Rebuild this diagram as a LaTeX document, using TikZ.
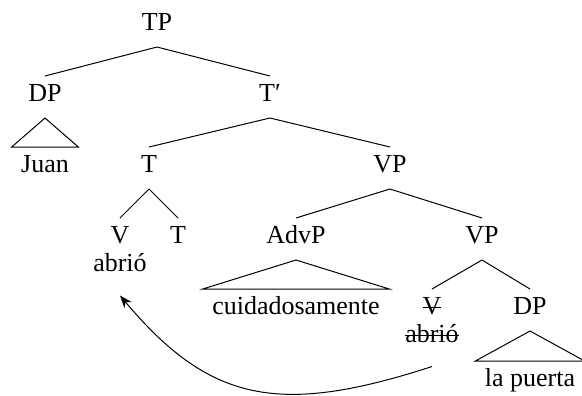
\documentclass[tikz,border=0pt]{standalone}
\usepackage{fontspec}
\setmainfont{Liberation Serif}
\usetikzlibrary{arrows.meta}
\newcommand\strk[1]{\setbox0\hbox{#1}\rlap{\rule[2.3pt]{\wd0}{0.4pt}}\box0}

\begin{document}
\begin{tikzpicture}[x = 0.4pt, y = 0.4pt,
    lbl/.style = {anchor=base, font=\fontsize{10.4}{12}\selectfont, text height=5.8pt, text depth=2.6pt, inner xsep=3.6pt, inner ysep=4pt},
    moved/.style = {lbl, inner ysep=7pt}]
    \useasboundingbox (0,0) rectangle (582,-395);
    \node[lbl] (tp) at (157,-30) {TP};
    \node[lbl] (dp) at (45,-101) {DP};
    \node[lbl] (tbar) at (270,-101) {T′};
    \node[lbl] (juan) at (45,-172) {Juan};
    \node[lbl] (t) at (149,-172) {T};
    \node[lbl] (vp) at (390,-172) {VP};
    \node[lbl] (v) at (120,-243) {V};
    \node[lbl] (tt) at (178,-243) {T};
    \node[moved] (abrio) at (120,-271) {abrió};
    \node[lbl] (advp) at (296,-243) {AdvP};
    \node[lbl] (vpb) at (482,-243) {VP};
    \node[lbl] (cuid) at (296,-314) {cuidadosamente};
    \node[lbl] (vtr) at (432,-314) {\strk{V}};
    \node[lbl] (dpb) at (530,-314) {DP};
    \node[moved] (abriotr) at (432,-342) {\strk{abrió}};
    \node[lbl] (puerta) at (530,-386) {la puerta};
    \draw
    (tp.south) -- (dp.north) (tp.south) -- (tbar.north)
    (tbar.south) -- (t.north) (tbar.south) -- (vp.north)
    (t.south) -- (v.north) (t.south) -- (tt.north)
    (vp.south) -- (advp.north) (vp.south) -- (vpb.north)
    (vpb.south) -- (vtr.north) (vpb.south) -- (dpb.north);
    \draw (dp.south) -- (juan.north west) -- (juan.north east) -- cycle;
    \draw (advp.south) -- (cuid.north west) -- (cuid.north east) -- cycle;
    \draw (dpb.south) -- (puerta.north west) -- (puerta.north east) -- cycle;
    \draw[-{Stealth[length=5pt]}] (abriotr.south) .. controls +(198:160) and +(-50:140) .. (abrio.south);
\end{tikzpicture}
\end{document}
